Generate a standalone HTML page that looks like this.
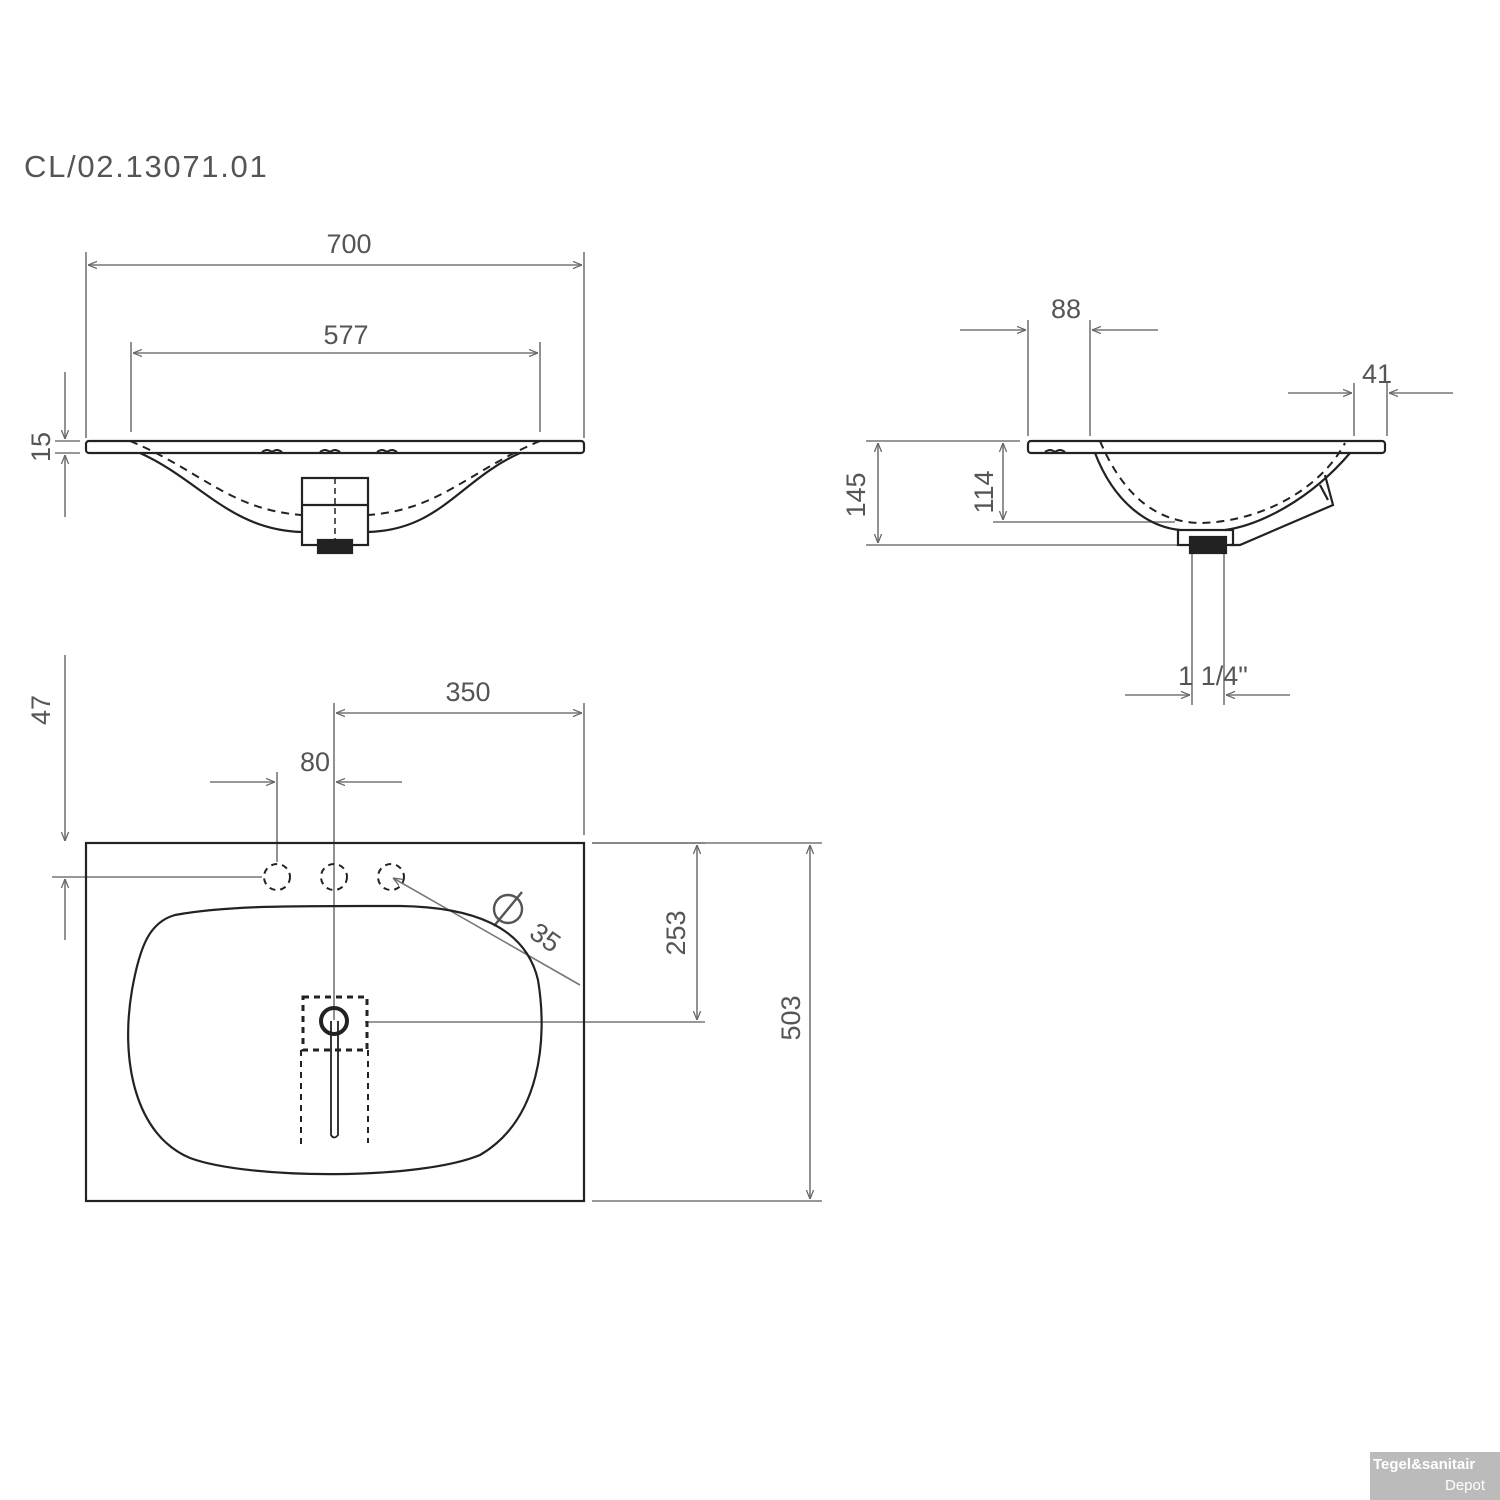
<!DOCTYPE html>
<html><head><style>
html,body{margin:0;padding:0;background:#fff;}
svg{display:block}
text{font-family:"Liberation Sans",sans-serif;fill:#555;}
</style></head><body>
<svg width="1500" height="1500" viewBox="0 0 1500 1500" xmlns="http://www.w3.org/2000/svg">
<defs>
<marker id="a" viewBox="0 0 10 10" refX="10" refY="5" markerWidth="9" markerHeight="9" orient="auto-start-reverse" markerUnits="userSpaceOnUse"><path d="M0,1 L10,5 L0,9" fill="none" stroke="#666" stroke-width="1.4"/></marker>
</defs>
<text x="24" y="177" font-size="31" letter-spacing="1.7">CL/02.13071.01</text>

<g stroke="#777" stroke-width="1.6" fill="none">
<line x1="86" y1="252" x2="86" y2="438"/><line x1="584" y1="252" x2="584" y2="438"/>
<line x1="88" y1="265" x2="582" y2="265" marker-start="url(#a)" marker-end="url(#a)"/>
<line x1="131" y1="342" x2="131" y2="432"/><line x1="540" y1="342" x2="540" y2="432"/>
<line x1="133" y1="353" x2="538" y2="353" marker-start="url(#a)" marker-end="url(#a)"/>
<line x1="65" y1="372" x2="65" y2="439" marker-end="url(#a)"/>
<line x1="65" y1="517" x2="65" y2="455" marker-end="url(#a)"/>
<line x1="55" y1="441" x2="80" y2="441"/><line x1="55" y1="453" x2="80" y2="453"/>
<line x1="1028" y1="320" x2="1028" y2="436"/><line x1="1090" y1="320" x2="1090" y2="436"/>
<line x1="960" y1="330" x2="1026" y2="330" marker-end="url(#a)"/>
<line x1="1158" y1="330" x2="1092" y2="330" marker-end="url(#a)"/>
<line x1="1354" y1="383" x2="1354" y2="436"/><line x1="1387" y1="383" x2="1387" y2="436"/>
<line x1="1288" y1="393" x2="1352" y2="393" marker-end="url(#a)"/>
<line x1="1453" y1="393" x2="1389" y2="393" marker-end="url(#a)"/>
<line x1="866" y1="441" x2="1020" y2="441"/><line x1="866" y1="545" x2="1180" y2="545"/>
<line x1="878" y1="443" x2="878" y2="543" marker-start="url(#a)" marker-end="url(#a)"/>
<line x1="993" y1="522" x2="1175" y2="522"/>
<line x1="1003" y1="443" x2="1003" y2="520" marker-start="url(#a)" marker-end="url(#a)"/>
<line x1="1192" y1="553" x2="1192" y2="705"/><line x1="1224" y1="553" x2="1224" y2="705"/>
<line x1="1125" y1="695" x2="1190" y2="695" marker-end="url(#a)"/>
<line x1="1290" y1="695" x2="1226" y2="695" marker-end="url(#a)"/>
<line x1="334" y1="703" x2="334" y2="1020"/>
<line x1="584" y1="703" x2="584" y2="835"/>
<line x1="336" y1="713" x2="582" y2="713" marker-start="url(#a)" marker-end="url(#a)"/>
<line x1="277" y1="772" x2="277" y2="862"/>
<line x1="210" y1="782" x2="275" y2="782" marker-end="url(#a)"/>
<line x1="402" y1="782" x2="336" y2="782" marker-end="url(#a)"/>
<line x1="65" y1="655" x2="65" y2="841" marker-end="url(#a)"/>
<line x1="65" y1="940" x2="65" y2="879" marker-end="url(#a)"/>
<line x1="52" y1="877" x2="262" y2="877"/>
<line x1="592" y1="843" x2="705" y2="843"/><line x1="365" y1="1022" x2="705" y2="1022"/>
<line x1="697" y1="845" x2="697" y2="1020" marker-start="url(#a)" marker-end="url(#a)"/>
<line x1="592" y1="843" x2="822" y2="843"/><line x1="592" y1="1201" x2="822" y2="1201"/>
<line x1="810" y1="845" x2="810" y2="1199" marker-start="url(#a)" marker-end="url(#a)"/>
<line x1="580" y1="985" x2="393" y2="878" marker-end="url(#a)"/>
</g>

<g font-size="27">
<text x="349" y="253" text-anchor="middle">700</text>
<text x="346" y="344" text-anchor="middle">577</text>
<text x="1066" y="318" text-anchor="middle">88</text>
<text x="1377" y="383" text-anchor="middle">41</text>
<text x="1213" y="685" text-anchor="middle">1 1/4"</text>
<text x="468" y="701" text-anchor="middle">350</text>
<text x="315" y="771" text-anchor="middle">80</text>
<text transform="translate(50,447) rotate(-90)" text-anchor="middle">15</text>
<text transform="translate(865,495) rotate(-90)" text-anchor="middle">145</text>
<text transform="translate(993,492) rotate(-90)" text-anchor="middle">114</text>
<text transform="translate(50,710) rotate(-90)" text-anchor="middle">47</text>
<text transform="translate(685,933) rotate(-90)" text-anchor="middle">253</text>
<text transform="translate(800,1018) rotate(-90)" text-anchor="middle">503</text>
<text transform="translate(540,945) rotate(35)" text-anchor="middle">35</text>
</g>
<g stroke="#555" stroke-width="2.4" fill="none">
<circle cx="508" cy="909" r="14"/><line x1="494" y1="926" x2="522" y2="892"/>
</g>

<g stroke="#222" stroke-width="2.2" fill="none">
<rect x="86" y="441" width="498" height="12" rx="3"/>
<path d="M140,453 C200,480 230,530 302,532"/>
<path d="M520,453 C460,480 440,530 368,532"/>
<path d="M130,441 C200,470 230,510 302,515 M540,441 C470,470 440,510 368,515" stroke-dasharray="8,6" stroke-width="2"/>
<rect x="302" y="478" width="66" height="67"/>
<line x1="302" y1="505" x2="368" y2="505"/>
<line x1="335" y1="478" x2="335" y2="545" stroke-dasharray="6,4" stroke-width="1.5"/>
<rect x="318" y="540" width="34" height="13" fill="#222"/>
<path d="M262,452 q5,-4 10,0 q5,-4 10,0 M320,452 q5,-4 10,0 q5,-4 10,0 M377,452 q5,-4 10,0 q5,-4 10,0" stroke-width="2"/>
<rect x="1028" y="441" width="357" height="12" rx="3"/>
<path d="M1095,453 C1115,505 1150,527 1180,530"/>
<path d="M1350,453 C1310,500 1260,525 1225,530"/>
<path d="M1100,441 C1125,500 1160,522 1200,523 C1260,522 1320,490 1345,443" stroke-dasharray="8,6" stroke-width="2"/>
<path d="M1325,475 L1333,505 L1240,545 L1230,545"/>
<path d="M1320,485 L1328,500"/>
<rect x="1178" y="530" width="55" height="15"/>
<rect x="1190" y="537" width="36" height="16" fill="#222"/>
<path d="M1045,452 q5,-4 10,0 q5,-4 10,0" stroke-width="2"/>
<rect x="86" y="843" width="498" height="358"/>
<path d="M175,915 C230,905 300,906 400,906 C470,907 525,925 538,980 C548,1040 540,1120 480,1155 C420,1180 250,1180 190,1158 C135,1135 120,1060 132,990 C140,945 150,922 175,915 Z"/>
<g stroke-dasharray="6,5" stroke-width="2">
<circle cx="277" cy="877" r="13"/><circle cx="334" cy="877" r="13"/><circle cx="391" cy="877" r="13"/>
<rect x="303" y="997" width="64" height="53" stroke-width="3"/>
<line x1="301" y1="1050" x2="301" y2="1145"/><line x1="368" y1="1050" x2="368" y2="1143"/>
</g>
<circle cx="334" cy="1021" r="13" stroke-width="4"/>
<path d="M331,1021 L331,1135 Q334,1140 338,1135 L338,1021" stroke-width="1.8"/>
</g>

<rect x="1370" y="1452" width="130" height="48" fill="#bbb"/>
<text x="1373" y="1469" font-size="15" font-weight="bold" style="fill:#fff">Tegel&amp;sanitair</text>
<text x="1445" y="1490" font-size="15" style="fill:#fff">Depot</text>
</svg>
</body></html>
